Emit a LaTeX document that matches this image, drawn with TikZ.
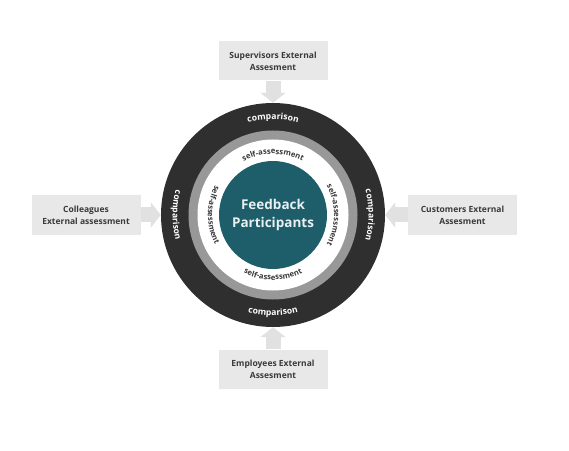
\documentclass[tikz,border=0pt]{standalone}
\usepackage{fontspec}
\setmainfont{Open Sans}
\usetikzlibrary{decorations.text,arrows.meta}
\definecolor{ringdark}{RGB}{47,47,47}
\definecolor{ringgray}{RGB}{152,152,152}
\definecolor{fbteal}{RGB}{30,94,106}
\definecolor{boxgray}{RGB}{232,232,232}
\definecolor{arrowgray}{RGB}{225,225,225}
\definecolor{textgray}{RGB}{58,58,58}

\tikzset{
  extbox/.style={fill=boxgray,minimum width=109pt,minimum height=39pt,inner sep=2pt,
    align=center,text=textgray,font=\fontsize{8.5}{12}\selectfont\bfseries},
  fatarrow/.style={arrowgray,line width=15pt,-{Triangle[length=10pt,width=25pt]}},
  cmptext/.style={decorate,decoration={text along path,text align=center,text color=white,
    text={|\fontsize{8.6}{8.6}\selectfont\bfseries|comparison}}},
  selftext/.style={decorate,decoration={text along path,text align=center,text color=textgray,
    text={|\fontsize{7.7}{7.7}\selectfont\bfseries|self-assessment}}}
}

\begin{document}
\begin{tikzpicture}[x=1pt,y=1pt]
\useasboundingbox (0,0) rectangle (569,450);
% rings
\node[circle,fill=ringdark,minimum size=224pt,inner sep=0](ring)at(273,235){};
\fill[ringgray](ring.center)circle(84.5pt);
\fill[white](ring.center)circle(75.5pt);
\node[circle,fill=fbteal,minimum size=108pt,inner sep=0,align=center,text={rgb,255:red,232;green,240;blue,242},
  font=\fontsize{13.5}{18}\selectfont\bfseries](core)at(ring.center){Feedback\\Participants};
% texts on the rings
\path[cmptext](ring.center)++(150:95.6pt)arc[start angle=150,end angle=30,radius=95.6pt];
\path[cmptext](ring.center)++(60:95.6pt)arc[start angle=60,end angle=-60,radius=95.6pt];
\path[cmptext](ring.center)++(210:100.4pt)arc[start angle=210,end angle=330,radius=100.4pt];
\path[cmptext](ring.center)++(120:100.4pt)arc[start angle=120,end angle=240,radius=100.4pt];
\path[selftext](ring.center)++(150:61pt)arc[start angle=150,end angle=30,radius=61pt];
\path[selftext](ring.center)++(60:61pt)arc[start angle=60,end angle=-60,radius=61pt];
\path[selftext](ring.center)++(210:65pt)arc[start angle=210,end angle=330,radius=65pt];
\path[selftext](ring.center)++(120:65pt)arc[start angle=120,end angle=240,radius=65pt];
% external views
\node[extbox](sup)at(273,389){Supervisors External\\Assesment};
\node[extbox,minimum height=40pt](col)at(86,235){Colleagues\\External assessment};
\node[extbox,minimum height=40pt](cus)at(462.5,235){Customers External\\Assesment};
\node[extbox](emp)at(273,81){Employees External\\Assesment};
\draw[fatarrow](sup)--(ring);
\draw[fatarrow](col)--(ring);
\draw[fatarrow](cus)--(ring);
\draw[fatarrow](emp)--(ring);
\end{tikzpicture}
\end{document}
